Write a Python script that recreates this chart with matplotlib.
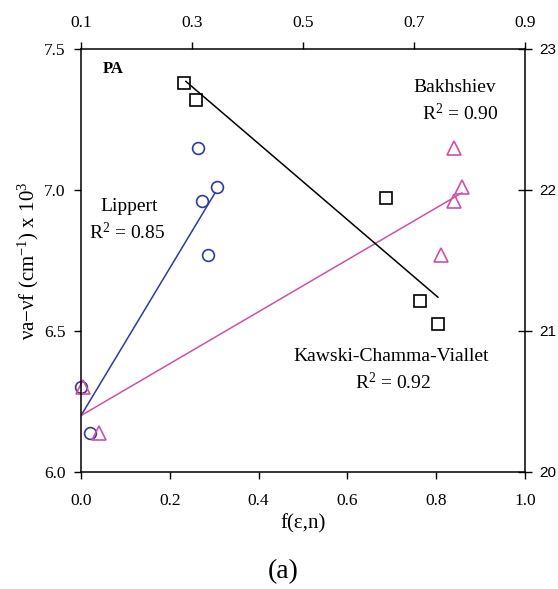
"""
Solvatochromic shift plot (PA): Lippert, Bakhshiev and Kawski-Chamma-Viallet fits.
"""
import matplotlib
matplotlib.use("Agg")
import matplotlib.pyplot as plt

plt.rcParams["font.family"] = "Liberation Serif"
plt.rcParams["mathtext.fontset"] = "custom"
plt.rcParams["mathtext.rm"] = "Liberation Serif"
plt.rcParams["mathtext.it"] = "Liberation Serif:italic"

BLUE = "#2E3A9E"
PINK = "#D050A8"

# Lippert: f(eps,n) vs nu_a - nu_f (x 10^3 cm^-1), bottom/left axes
LIPPERT_X = [0.0, 0.02, 0.263, 0.273, 0.287, 0.306]
LIPPERT_Y = [6.30, 6.14, 7.15, 6.96, 6.77, 7.01]
LIPPERT_FIT_X = [0.0, 0.302]
LIPPERT_FIT_Y = [6.20, 6.99]

# Kawski-Chamma-Viallet: bottom/left axes
KCV_X = [0.005, 0.041, 0.840, 0.840, 0.811, 0.858]
KCV_Y = [6.30, 6.14, 7.15, 6.96, 6.77, 7.01]
KCV_FIT_X = [0.0, 0.858]
KCV_FIT_Y = [6.20, 6.99]

# Bakhshiev: top/right axes
BAKH_X = [0.286, 0.307, 0.650, 0.711, 0.743]
BAKH_Y = [22.76, 22.64, 21.94, 21.21, 21.05]
BAKH_FIT_X = [0.289, 0.743]
BAKH_FIT_Y = [22.77, 21.24]

BOTTOM_TICKS = [0.0, 0.2, 0.4, 0.6, 0.8, 1.0]
LEFT_TICKS = [6.0, 6.5, 7.0, 7.5]
TOP_TICKS = [0.1, 0.3, 0.5, 0.7, 0.9]
RIGHT_TICKS = [20, 21, 22, 23]

fig = plt.figure(figsize=(5.58, 5.89), dpi=100)
pos = [81 / 558, 1 - 472 / 589, 444 / 558, 423 / 589]
ax = fig.add_axes(pos)
ax2 = fig.add_axes(pos, frameon=False)

ax.plot(LIPPERT_FIT_X, LIPPERT_FIT_Y, color=BLUE, lw=1.1)
ax.plot(KCV_FIT_X, KCV_FIT_Y, color=PINK, lw=1.1)
ax.plot(LIPPERT_X, LIPPERT_Y, "o", ms=8.5, mfc="none", mec=BLUE, mew=1.2,
        clip_on=False)
ax.plot(KCV_X, KCV_Y, "^", ms=10, mfc="none", mec=PINK, mew=1.2,
        clip_on=False)

ax2.plot(BAKH_FIT_X, BAKH_FIT_Y, color="black", lw=1.1)
ax2.plot(BAKH_X, BAKH_Y, "s", ms=8.5, mfc="none", mec="black", mew=1.2)

ax.set_xlim(0, 1.0)
ax.set_ylim(6.0, 7.5)
ax.set_xticks(BOTTOM_TICKS)
ax.set_yticks(LEFT_TICKS)
ax.set_xticklabels([f"{t:.1f}" for t in BOTTOM_TICKS])
ax.set_yticklabels([f"{t:.1f}" for t in LEFT_TICKS])
ax.tick_params(direction="out", length=5, width=1, labelsize=12.5)
ax.tick_params(axis="x", pad=10)
ax.tick_params(axis="y", pad=6)
for sp in ax.spines.values():
    sp.set_linewidth(1.1)

ax2.set_xlim(0.1, 0.9)
ax2.set_ylim(20, 23)
ax2.set_xticks(TOP_TICKS)
ax2.set_yticks(RIGHT_TICKS)
ax2.set_xticklabels([f"{t:.1f}" for t in TOP_TICKS])
ax2.xaxis.tick_top()
ax2.yaxis.tick_right()
ax2.tick_params(axis="x", direction="out", length=5, width=1,
                labelsize=12.5, pad=8)
ax2.tick_params(axis="y", direction="inout", length=10, width=1, pad=5)
for lab in ax2.get_yticklabels():
    lab.set_family("Liberation Sans")
    lab.set_fontsize(11)

ax.set_xlabel("f(\u03b5,n)", fontsize=15, labelpad=4)
ax.set_ylabel("\u03bda\u2212\u03bdf (cm$^{-1}$) x 10$^{3}$", fontsize=15,
              labelpad=2)

ax.text(0.05, 7.43, "PA", fontsize=12, fontweight="bold", va="center")
ax.text(0.108, 6.94, "Lippert", fontsize=14, ha="center", va="center")
ax.text(0.104, 6.851, "R$^{2}$ = 0.85", fontsize=14, ha="center",
        va="center")
ax.text(0.842, 7.362, "Bakhshiev", fontsize=14, ha="center", va="center")
ax.text(0.854, 7.27, "R$^{2}$ = 0.90", fontsize=14, ha="center",
        va="center")
ax.text(0.698, 6.411, "Kawski-Chamma-Viallet", fontsize=14, ha="center",
        va="center")
ax.text(0.703, 6.319, "R$^{2}$ = 0.92", fontsize=14, ha="center",
        va="center")

fig.text(283 / 558, 1 - 572 / 589, "(a)", fontsize=20, ha="center",
         va="center")

fig.savefig("out.png", dpi=100)
